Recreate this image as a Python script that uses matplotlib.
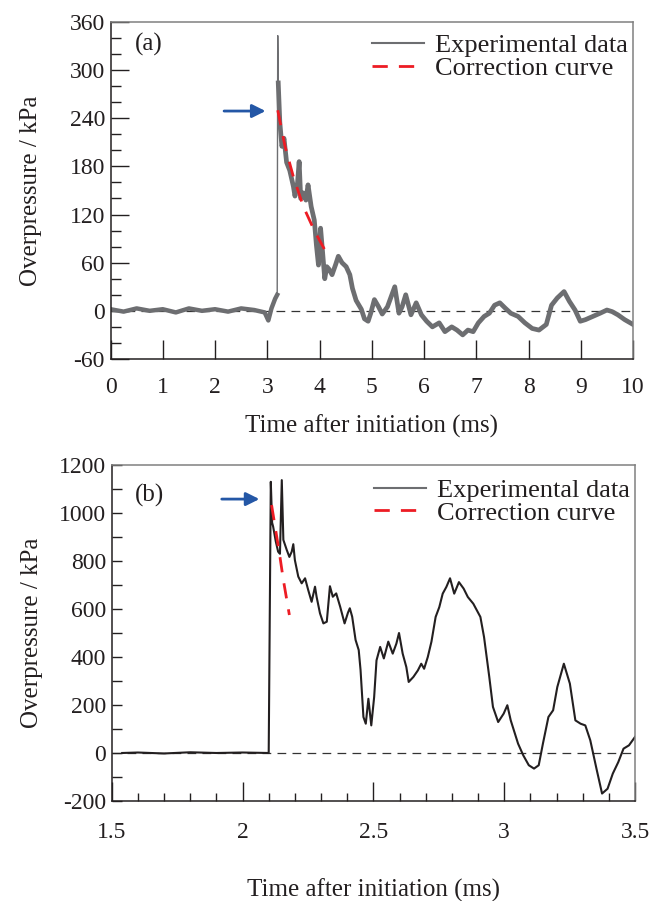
import matplotlib
matplotlib.use("Agg")
import matplotlib.pyplot as plt
from matplotlib.ticker import MultipleLocator

plt.rcParams['font.family'] = ['Liberation Serif', 'DejaVu Serif']
plt.rcParams['axes.unicode_minus'] = False

# ---------------- Panel (a) data ----------------
a_base_t = [0.0, 0.25, 0.5, 0.75, 1.0, 1.25, 1.5, 1.75, 2.0, 2.25, 2.5, 2.75, 2.95, 3.02, 3.08, 3.15, 3.19]
a_base_p = [2, -1, 3, 0, 2, -2, 3, 0, 2, -1, 3, 1, -2, -12, 3, 15, 20]

a_spike_t = [3.19, 3.20, 3.21]
a_spike_p = [20, 343, 284]

a_decay_t = [3.21, 3.24, 3.28, 3.32, 3.37, 3.43, 3.50, 3.53, 3.58, 3.61, 3.64, 3.69, 3.74, 3.78,
             3.84, 3.90, 3.94, 3.98, 4.02, 4.06, 4.10, 4.14, 4.18, 4.24, 4.31, 4.36, 4.43, 4.51,
             4.58, 4.63, 4.70, 4.80, 4.86, 4.93, 4.98, 5.05, 5.13, 5.20, 5.30, 5.44, 5.52, 5.58,
             5.65, 5.75, 5.85, 5.95, 6.05, 6.16, 6.29, 6.40, 6.53, 6.63, 6.74, 6.84, 6.94, 7.04,
             7.15, 7.25, 7.35, 7.45, 7.56, 7.66, 7.80, 7.93, 8.07, 8.20, 8.34, 8.44, 8.55, 8.68,
             8.78, 8.89, 8.99, 9.09, 9.23, 9.37, 9.50, 9.60, 9.71, 9.84, 10.0]
a_decay_p = [284, 235, 205, 215, 185, 175, 155, 143, 160, 186, 140, 147, 138, 157,
             130, 113, 82, 57, 103, 72, 40, 55, 52, 45, 58, 68, 60, 55,
             45, 28, 13, 2, -10, -13, -3, 14, 5, -4, 5, 30, -3, 5,
             20, -5, 10, -5, -13, -20, -15, -26, -20, -24, -30, -24, -26, -15,
             -7, -3, 7, 10, 3, -3, -7, -15, -22, -24, -17, 7, 16, 24,
             12, 1, -13, -11, -7, -3, 1, -1, -5, -11, -17]

a_corr_t = [3.20, 3.34, 3.50, 3.69, 3.90, 4.10]
a_corr_p = [250, 205, 167, 130, 100, 76]

# ---------------- Panel (b) data ----------------
b_t = [1.54, 1.60, 1.70, 1.80, 1.90, 2.00, 2.100, 2.108, 2.113, 2.117, 2.127, 2.136, 2.143,
       2.150, 2.156, 2.169, 2.179, 2.188, 2.194, 2.200, 2.213, 2.226, 2.239, 2.251, 2.264,
       2.277, 2.283, 2.296, 2.309, 2.322, 2.334, 2.345, 2.358, 2.373, 2.390, 2.403, 2.410,
       2.419, 2.432, 2.444, 2.451, 2.462, 2.471, 2.481, 2.492, 2.503, 2.512, 2.526, 2.540,
       2.557, 2.574, 2.588, 2.598, 2.612, 2.626, 2.635, 2.653, 2.670, 2.683, 2.694, 2.708,
       2.722, 2.738, 2.752, 2.765, 2.779, 2.793, 2.809, 2.827, 2.845, 2.861, 2.882, 2.909,
       2.923, 2.943, 2.957, 2.977, 2.998, 3.012, 3.025, 3.053, 3.073, 3.094, 3.114, 3.132,
       3.148, 3.169, 3.187, 3.203, 3.228, 3.251, 3.272, 3.292, 3.310, 3.329, 3.354, 3.374,
       3.395, 3.415, 3.436, 3.456, 3.477, 3.500]
b_p = [0, 2, -2, 3, 0, 2, 0, 1130, 960, 943, 882, 839, 830,
       1137, 888, 846, 817, 839, 870, 804, 735, 707, 728, 679, 630,
       693, 651, 582, 540, 547, 695, 651, 665, 610, 540, 585, 603,
       568, 471, 429, 346, 150, 122, 226, 115, 233, 386, 442, 394,
       464, 414, 456, 500, 414, 358, 296, 317, 344, 372, 351, 400,
       464, 567, 608, 664, 692, 728, 664, 712, 685, 650, 622, 567,
       483, 317, 192, 129, 164, 199, 136, 39, -10, -51, -65, -51,
       39, 150, 178, 275, 372, 289, 136, 122, 115, 53, -72, -169,
       -149, -86, -38, 18, 32, 67]

b_corr_t = [2.111, 2.141, 2.156, 2.179]
b_corr_p = [1033, 832, 721, 575]

a_xticks = [0, 1, 2, 3, 4, 5, 6, 7, 8, 9, 10]
a_yticks = [-60, 0, 60, 120, 180, 240, 300, 360]
b_xticks = [1.5, 2.0, 2.5, 3.0, 3.5]
b_xticklabels = ['1.5', '2', '2.5', '3', '3.5']
b_yticks = [-200, 0, 200, 400, 600, 800, 1000, 1200]

legend_labels = ['Experimental data', 'Correction curve']
xlabel = 'Time after initiation (ms)'
ylabel = 'Overpressure / kPa'

TXT = '#231f20'
GREY = '#6d6e71'
RED = '#ed1c24'
BLUE = '#2457a6'
DASH = (0, (5.5, 4))

fig = plt.figure(figsize=(6.61, 9.01), dpi=100)
ax1 = fig.add_axes([0.1672, 0.6016, 0.7905, 0.3740])
ax2 = fig.add_axes([0.1690, 0.1110, 0.7917, 0.3729])


def style(ax, major_x, minor_x, major_y, minor_y):
    ax.spines['left'].set_color(TXT)
    ax.spines['bottom'].set_color(TXT)
    ax.spines['top'].set_color('#808080')
    ax.spines['right'].set_color('#808080')
    for s in ax.spines.values():
        s.set_linewidth(1.1)
    ax.tick_params(axis='x', which='major', direction='in', length=major_x, width=1.0,
                   colors=TXT, labelsize=17, pad=13, top=False)
    ax.tick_params(axis='x', which='minor', direction='in', length=minor_x, width=1.0,
                   colors=TXT, top=False)
    ax.tick_params(axis='y', which='major', direction='in', length=major_y, width=1.0,
                   colors=TXT, labelsize=17, pad=4, right=False)
    ax.tick_params(axis='y', which='minor', direction='in', length=minor_y, width=1.0,
                   colors=TXT, right=False)


def add_legend(ax, ytop):
    h1 = ax.plot([], [], color=GREY, lw=1.5)[0]
    h2 = ax.plot([], [], color=RED, lw=2.0, ls=DASH)[0]
    leg = ax.legend([h1, h2], legend_labels, loc='upper right', bbox_to_anchor=(1.0, ytop),
                    frameon=False, fontsize=19, handlelength=2.0, handletextpad=0.4,
                    labelspacing=-0.04, borderaxespad=0.1, borderpad=0.1)
    for t in leg.get_texts():
        t.set_color(TXT)


# ---------------- Panel (a) ----------------
ax1.axhline(0, color='#333333', lw=0.9, ls=(0, (7, 5)), zorder=1)
ax1.plot(a_base_t, a_base_p, color=GREY, lw=3.2, solid_joinstyle='round', zorder=2)
ax1.plot(a_spike_t, a_spike_p, color=GREY, lw=1.0, zorder=2)
ax1.plot(a_decay_t, a_decay_p, color=GREY, lw=3.4, solid_joinstyle='round', zorder=2)
ax1.plot(a_corr_t, a_corr_p, color=RED, lw=2.0, ls=DASH, zorder=3)
ax1.set_xlim(0, 10)
ax1.set_ylim(-60, 360)
ax1.set_xticks(a_xticks)
ax1.set_yticks(a_yticks)
ax1.yaxis.set_minor_locator(MultipleLocator(20))
style(ax1, 13.5, 0, 13, 7)
ax1.annotate('', xy=(3.02, 249), xytext=(2.12, 249),
             arrowprops=dict(arrowstyle='-|>', color=BLUE, lw=2.0, mutation_scale=20))
ax1.text(0.047, 0.932, '(a)', transform=ax1.transAxes, fontsize=18, color=TXT,
         ha='left', va='center')
add_legend(ax1, 0.98)
ax1.set_xlabel(xlabel, fontsize=18, color=TXT, labelpad=12)
ax1.set_ylabel(ylabel, fontsize=18, color=TXT)
ax1.yaxis.set_label_coords(-0.131, 0.5)

# ---------------- Panel (b) ----------------
ax2.axhline(0, color='#333333', lw=0.9, ls=(0, (7, 5)), zorder=1)
ax2.plot(b_t, b_p, color=TXT, lw=1.5, solid_joinstyle='round', zorder=2)
ax2.plot(b_corr_t, b_corr_p, color=RED, lw=2.0, ls=DASH, zorder=3)
ax2.set_xlim(1.5, 3.5)
ax2.set_ylim(-200, 1200)
ax2.set_xticks(b_xticks)
ax2.set_xticklabels(b_xticklabels)
ax2.set_yticks(b_yticks)
ax2.xaxis.set_minor_locator(MultipleLocator(0.1))
ax2.yaxis.set_minor_locator(MultipleLocator(100))
style(ax2, 13.5, 6, 7, 7)
ax2.tick_params(axis='x', which='major', pad=15)
ax2.annotate('', xy=(2.075, 1058), xytext=(1.91, 1058),
             arrowprops=dict(arrowstyle='-|>', color=BLUE, lw=2.0, mutation_scale=20))
ax2.text(0.045, 0.91, '(b)', transform=ax2.transAxes, fontsize=18, color=TXT,
         ha='left', va='center')
add_legend(ax2, 0.975)
ax2.set_xlabel(xlabel, fontsize=18, color=TXT, labelpad=26)
ax2.set_ylabel(ylabel, fontsize=18, color=TXT)
ax2.yaxis.set_label_coords(-0.131, 0.5)

fig.savefig('out.png', dpi=100)
